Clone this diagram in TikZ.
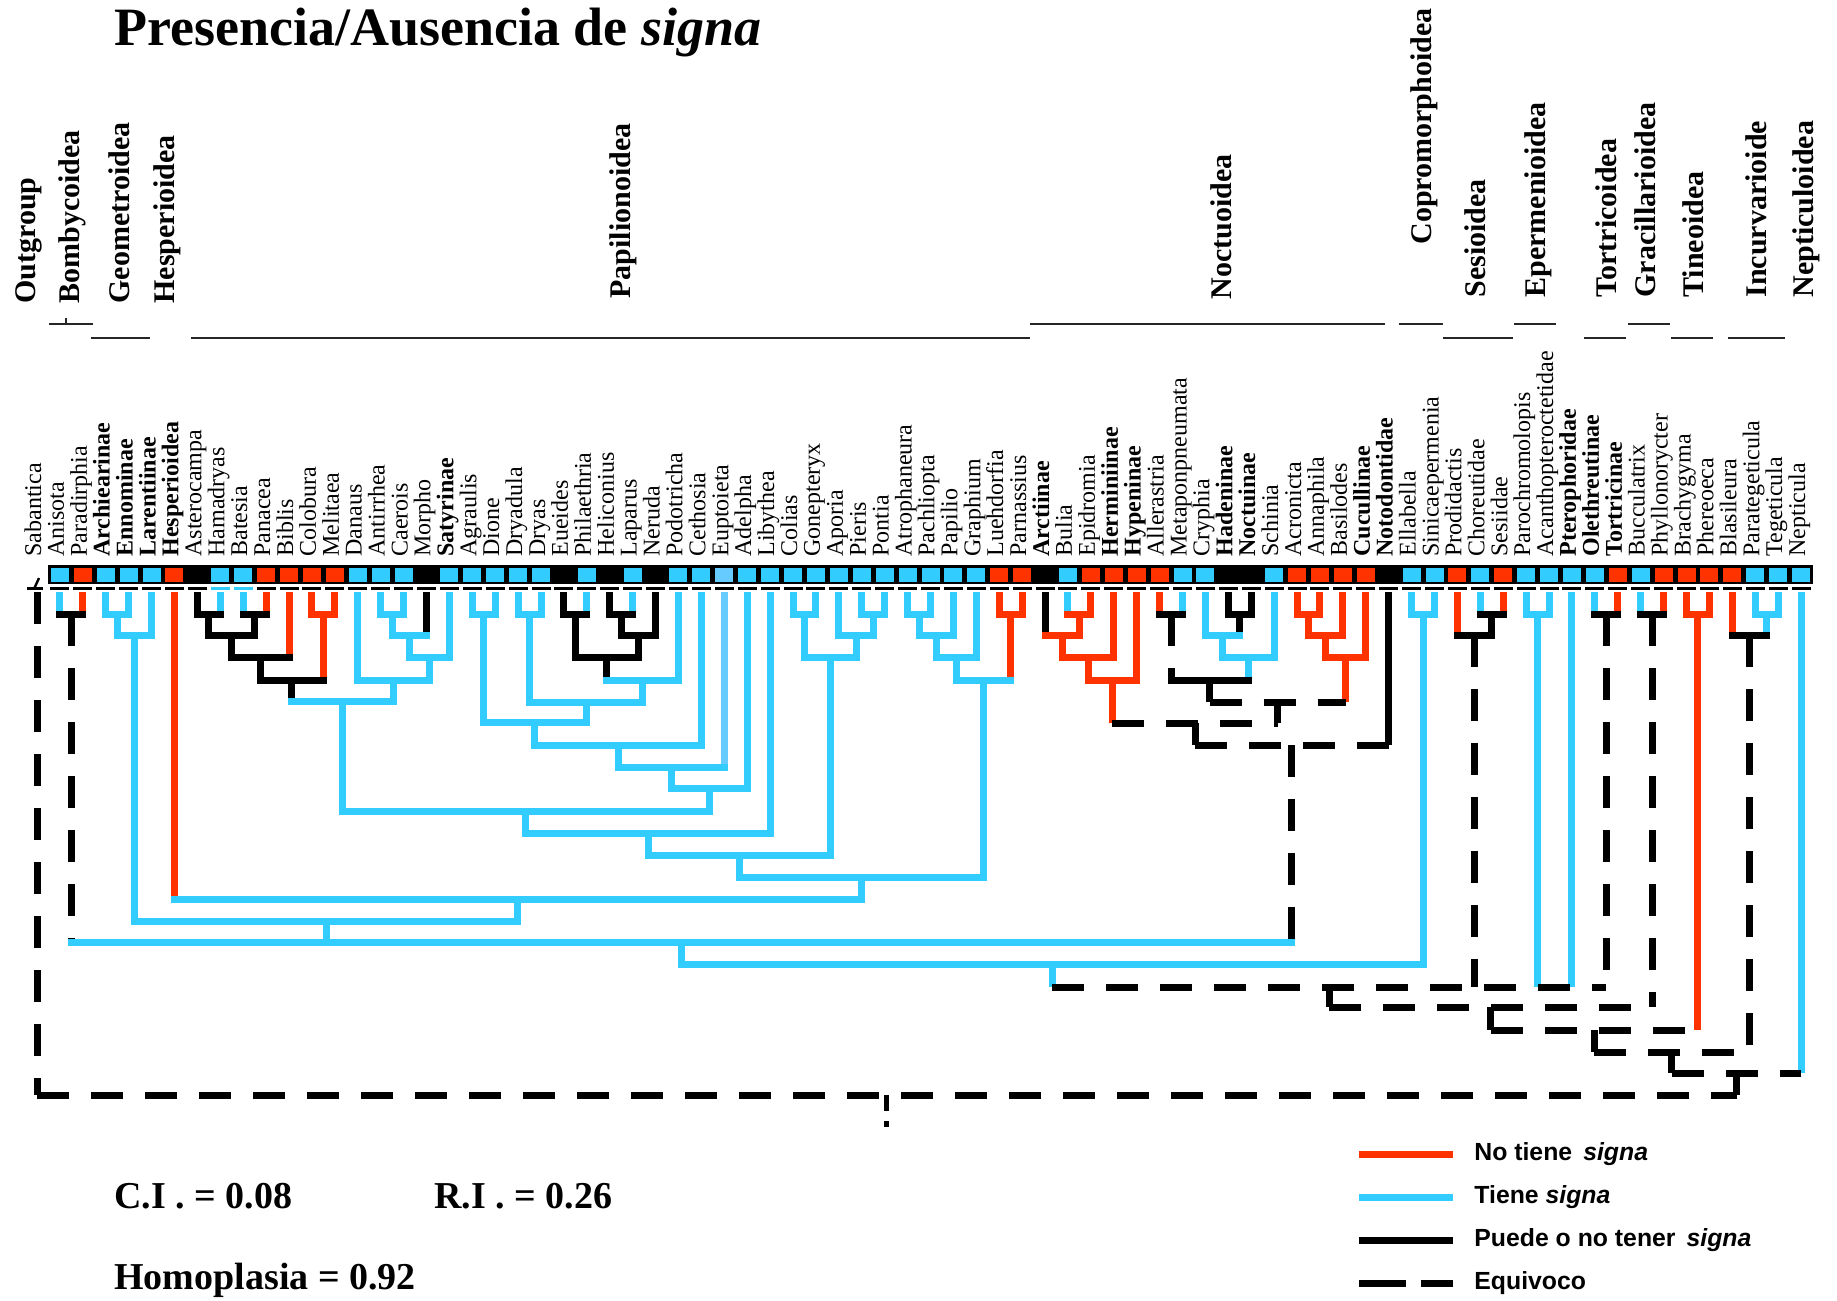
\documentclass[tikz,border=0pt]{standalone}
\usepackage{fontspec}
\setmainfont{Liberation Serif}
\newfontfamily\lsans{Liberation Sans}
\usetikzlibrary{calc}
\definecolor{sblue}{HTML}{33CCFF}
\definecolor{sred}{HTML}{FF3300}
\definecolor{slight}{HTML}{66CCFF}
% join two children (#2,#3) at height #4 into node #1
\newcommand\jn[7]{%
  \coordinate (#1) at ($(#2)!0.5!(#3)$);
  \coordinate (#1) at (#1 |- 0,#4);
  \draw[#6] (#2) -- (#2 |- #1);
  \draw[#7] (#3) -- (#3 |- #1);
  \draw[#5] (#2 |- #1) -- (#3 |- #1);
}
\begin{document}
\begin{tikzpicture}[x=0.5pt,y=-0.5pt,
  br/.style={line width=3.5pt,line cap=butt},
  bl/.style={br,draw=sblue},
  rd/.style={br,draw=sred},
  bk/.style={br,draw=black},
  lb/.style={br,draw=slight},
  dk/.style={br,draw=black,dash pattern=on 16pt off 11pt},
  hz/.style={line cap=rect},
  taxon/.style={rotate=90,anchor=base west,inner sep=0pt,font=\fontsize{12}{12}\selectfont},
  grp/.style={rotate=90,anchor=base west,inner sep=0pt,font=\fontsize{15}{15}\selectfont\bfseries},
  uline/.style={line width=1.2pt,draw=black!85},
  stat/.style={anchor=base west,inner sep=0pt,font=\fontsize{19}{19}\selectfont\bfseries},
  legtext/.style={anchor=west,inner sep=0pt,font=\lsans\bfseries\fontsize{12.4}{13}\selectfont},
  legdash/.style={br,draw=black,dash pattern=on 23.5pt off 7.5pt},
  ]
\useasboundingbox (0,0) rectangle (1837,1301);

% title
\node[anchor=base west,inner sep=0pt,font=\fontsize{27}{27}\selectfont\bfseries] (title) at (114,45) {Presencia/Ausencia de \textit{signa}};

% group labels
\node[grp] (g1) at (35,304) {Outgroup};
\node[grp] (g2) at (79,304) {Bombycoidea};
\node[grp] (g3) at (129,304) {Geometroidea};
\node[grp] (g4) at (174,304) {Hesperioidea};
\node[grp] (g5) at (630,299) {Papilionoidea};
\node[grp] (g6) at (1231,300) {Noctuoidea};
\node[grp] (g7) at (1431,245) {Copromorphoidea};
\node[grp] (g8) at (1485,298) {Sesioidea};
\node[grp] (g9) at (1545,298) {Epermenioidea};
\node[grp] (g10) at (1616,298) {Tortricoidea};
\node[grp] (g11) at (1655,298) {Gracillarioidea};
\node[grp] (g12) at (1703,298) {Tineoidea};
\node[grp] (g13) at (1766,298) {Incurvarioide};
\node[grp] (g14) at (1813,298) {Nepticuloidea};
% group underlines
\draw[uline] (49,324) -- (93,324);
\draw[uline] (66,318) -- (66,324);
\draw[uline] (91,338) -- (150,338);
\draw[uline] (191,338) -- (1030,338);
\draw[uline] (1030,324) -- (1385,324);
\draw[uline] (1399,324) -- (1443,324);
\draw[uline] (1443,338) -- (1513,338);
\draw[uline] (1514,324) -- (1556,324);
\draw[uline] (1584,338) -- (1626,338);
\draw[uline] (1628,324) -- (1670,324);
\draw[uline] (1671,338) -- (1713,338);
\draw[uline] (1728,338) -- (1785,338);

% taxon labels
\foreach \lab [count=\i from 0] in {Sabantica,Anisota,Paradirphia,\textbf{Archiearinae},\textbf{Ennominae},\textbf{Larentiinae},\textbf{Hesperioidea},Asterocampa,Hamadryas,Batesia,Panacea,Biblis,Colobura,Melitaea,Danaus,Antirrhea,Caerois,Morpho,\textbf{Satyrinae},Agraulis,Dione,Dryadula,Dryas,Eueides,Philaethria,Heliconius,Laparus,Neruda,Podotricha,Cethosia,Euptoieta,Adelpha,Libythea,Colias,Gonepteryx,Aporia,Pieris,Pontia,Atrophaneura,Pachliopta,Papilio,Graphium,Luehdorfia,Parnassius,\textbf{Arctiinae},Bulia,Epidromia,\textbf{Herminiinae},\textbf{Hypeninae},Allerastria,Metaponpneumata,Cryphia,\textbf{Hadeninae},\textbf{Noctuinae},Schinia,Acronicta,Annaphila,Basilodes,\textbf{Cucullinae},\textbf{Notodontidae},Ellabella,Sinicaepermenia,Prodidactis,Choreutidae,Sesiidae,Parochromolopis,Acanthopteroctetidae,\textbf{Pterophoridae},\textbf{Olethreutinae},\textbf{Tortricinae},Bucculatrix,Phyllonorycter,Brachygyma,Phereoeca,Blasileura,Parategeticula,Tegeticula,Nepticula}
  \node[taxon] (l\i) at ({41+22.91*\i},557) {\lab};

% character bar
\fill[black] (48,565) rectangle (1813,584);
\foreach \i/\c in {1/sblue,2/sred,3/sblue,4/sblue,5/sblue,6/sred,8/sblue,9/sblue,10/sred,11/sred,12/sred,13/sred,14/sblue,15/sblue,16/sblue,18/sblue,19/sblue,20/sblue,21/sblue,22/sblue,24/sblue,26/sblue,28/sblue,29/sblue,30/slight,31/sblue,32/sblue,33/sblue,34/sblue,35/sblue,36/sblue,37/sblue,38/sblue,39/sblue,40/sblue,41/sblue,42/sred,43/sred,45/sblue,46/sred,47/sred,48/sred,49/sred,50/sblue,51/sblue,54/sblue,55/sred,56/sred,57/sred,58/sred,60/sblue,61/sblue,62/sred,63/sblue,64/sred,65/sblue,66/sblue,67/sblue,68/sblue,69/sred,70/sblue,71/sred,72/sred,73/sred,74/sred,75/sblue,76/sblue,77/sblue}
  \fill[\c] ({37+22.91*\i-9},568) rectangle ({37+22.91*\i+9},582);
\foreach \i in {1,...,77}
  \draw[line width=1.5pt] ({37+22.91*\i-9.5},588) -- ({37+22.91*\i+9.5},588);
\foreach \i in {8,9}
  \draw[line width=1.5pt,sblue] ({37+22.91*\i-9.5},588) -- ({37+22.91*\i+9.5},588);
\draw[line width=1.5pt] (27,588) -- (43,588);
\draw[line width=1.2pt] (34,589) -- (39,578);

% tips
\foreach \i in {0,...,77} \coordinate (t\i) at ({37+22.91*\i},592);

% Bombycoidea
\jn{bom}{t1}{t2}{614}{bk,hz}{bl}{rd}
% Geometroidea
\jn{geoa}{t3}{t4}{614}{bl,hz}{bl}{bl}
\jn{geo}{geoa}{t5}{635}{bl,hz}{bl}{bl}
% Nymphalidae part 1
\jn{aa}{t7}{t8}{614}{bk,hz}{bk}{bl}
\jn{ab}{t9}{t10}{614}{bk,hz}{bl}{rd}
\jn{ac}{aa}{ab}{635}{bk,hz}{bk}{bk}
\jn{ad}{ac}{t11}{657}{bk,hz}{bk}{rd}
\jn{ae}{t12}{t13}{614}{rd,hz}{rd}{rd}
\jn{af}{ad}{ae}{680}{bk,hz}{bk}{rd}
\jn{sa}{t15}{t16}{614}{bl,hz}{bl}{bl}
\jn{sb}{sa}{t17}{635}{bl,hz}{bl}{bk}
\jn{sc}{sb}{t18}{657}{bl,hz}{bl}{bl}
\jn{sd}{t14}{sc}{680}{bl,hz}{bl}{bl}
\jn{ag}{af}{sd}{701}{bl,hz}{bk}{bl}
% Heliconiines etc.
\jn{ha}{t19}{t20}{614}{bl,hz}{bl}{bl}
\jn{hb}{t21}{t22}{614}{bl,hz}{bl}{bl}
\jn{hc}{t23}{t24}{614}{bk,hz}{bk}{bl}
\jn{hd}{t25}{t26}{614}{bk,hz}{bk}{bl}
\jn{he}{hd}{t27}{635}{bk,hz}{bk}{bk}
\jn{hf}{hc}{he}{657}{bk,hz}{bk}{bk}
\jn{hg}{hf}{t28}{680}{bl,hz}{bk}{bl}
\jn{hh}{hb}{hg}{702}{bl,hz}{bl}{bl}
\jn{hi}{ha}{hh}{722}{bl,hz}{bl}{bl}
\jn{hj}{hi}{t29}{745}{bl,hz}{bl}{bl}
\jn{hk}{hj}{t30}{767}{bl,hz}{bl}{lb}
\jn{hl}{hk}{t31}{788}{bl,hz}{bl}{bl}
\jn{hm}{ag}{hl}{811}{bl,hz}{bl}{bl}
\jn{hn}{hm}{t32}{833}{bl,hz}{bl}{bl}
% Pieridae
\jn{pa}{t33}{t34}{614}{bl,hz}{bl}{bl}
\jn{pb}{t36}{t37}{614}{bl,hz}{bl}{bl}
\jn{pc}{t35}{pb}{635}{bl,hz}{bl}{bl}
\jn{pd}{pa}{pc}{657}{bl,hz}{bl}{bl}
\jn{pe}{hn}{pd}{855}{bl,hz}{bl}{bl}
% Papilionidae
\jn{qa}{t38}{t39}{614}{bl,hz}{bl}{bl}
\jn{qb}{qa}{t40}{635}{bl,hz}{bl}{bl}
\jn{qc}{qb}{t41}{657}{bl,hz}{bl}{bl}
\jn{qd}{t42}{t43}{614}{rd,hz}{rd}{rd}
\jn{qe}{qc}{qd}{680}{bl,hz}{bl}{rd}
\jn{pf}{pe}{qe}{877}{bl,hz}{bl}{bl}
\jn{pg}{t6}{pf}{899}{bl,hz}{rd}{bl}
\jn{ph}{geo}{pg}{921}{bl,hz}{bl}{bl}
% Noctuoidea
\jn{na}{t45}{t46}{614}{rd,hz}{bl}{rd}
\jn{nb}{t44}{na}{635}{rd,hz}{bk}{rd}
\jn{nc}{nb}{t47}{657}{rd,hz}{rd}{rd}
\jn{nd}{nc}{t48}{680}{rd,hz}{rd}{rd}
\jn{ne}{t49}{t50}{614}{bk,hz}{rd}{bl}
\jn{nf}{t52}{t53}{614}{bk,hz}{bk}{bk}
\jn{ng}{t51}{nf}{635}{bl,hz}{bl}{bk}
\jn{nh}{ng}{t54}{657}{bl,hz}{bl}{bl}
\jn{ni}{ne}{nh}{680}{bk,hz}{dk}{bl}
\jn{ca}{t55}{t56}{614}{rd,hz}{rd}{rd}
\jn{cb}{ca}{t57}{635}{rd,hz}{rd}{rd}
\jn{cc}{cb}{t58}{657}{rd,hz}{rd}{rd}
\jn{nj}{ni}{cc}{702}{dk}{bk}{rd}
\jn{nk}{nd}{nj}{723}{dk}{rd}{bk}
\jn{nl}{nk}{t59}{745}{dk}{bk}{bk}
% Copromorphoidea
\jn{cp}{t60}{t61}{614}{bl,hz}{bl}{bl}
% Sesioidea
\jn{sea}{t63}{t64}{614}{bk,hz}{bl}{rd}
\jn{se}{t62}{sea}{635}{bk,hz}{rd}{bk}
% Epermenioidea
\jn{ep}{t65}{t66}{614}{bl,hz}{bl}{bl}
% Tortricoidea
\jn{tor}{t68}{t69}{614}{bk,hz}{bl}{rd}
% Gracillarioidea
\jn{gr}{t70}{t71}{614}{bk,hz}{bl}{rd}
% Tineoidea
\jn{tin}{t72}{t73}{614}{rd,hz}{rd}{rd}
% Incurvarioidea
\jn{inca}{t75}{t76}{614}{bl,hz}{bl}{bl}
\jn{inc}{t74}{inca}{635}{bk,hz}{rd}{bl}

% backbone
\coordinate (g942) at ($(bom)!0.5!(nl)$);
\coordinate (g942) at (g942 |- 0,942);
\draw[dk] (bom) -- (bom |- g942);
\draw[bl] (ph) -- (ph |- g942);
\draw[dk] (nl) -- (nl |- g942);
\draw[bl,hz] (bom |- g942) -- (nl |- g942);
\jn{g964}{g942}{cp}{964}{bl,hz}{bl}{bl}
\coordinate (g987) at ($(g964)!0.5!(tor)$);
\coordinate (g987) at (g987 |- 0,987);
\draw[bl] (g964) -- (g964 |- g987);
\draw[dk] (se) -- (se |- g987);
\draw[bl] (ep) -- (ep |- g987);
\draw[bl] (t67) -- (t67 |- g987);
\draw[dk] (tor) -- (tor |- g987);
\draw[dk] (g964 |- g987) -- (tor |- g987);
\jn{g1007}{g987}{gr}{1007}{dk}{dk}{dk}
\jn{g1030}{g1007}{tin}{1030}{dk}{dk}{rd}
\jn{g1052}{g1030}{inc}{1052}{dk}{dk}{dk}
\jn{g1073}{g1052}{t77}{1073}{dk}{dk}{bl}
\jn{root}{t0}{g1073}{1095}{dk}{dk}{dk}
\coordinate (rootend) at (root |- 0,1128);
\draw[black,line width=2.5pt,dash pattern=on 8pt off 5pt on 3pt off 20pt] (root) -- (rootend);

% statistics
\node[stat] (ci) at (114,1208) {C.I . = 0.08};
\node[stat] (ri) at (434,1208) {R.I . = 0.26};
\node[stat] (hom) at (114,1289) {Homoplasia = 0.92};

% legend
\coordinate (la1) at (1359,1154); \coordinate (la2) at (1453,1154);
\coordinate (lb1) at (1359,1197); \coordinate (lb2) at (1453,1197);
\coordinate (lc1) at (1359,1240); \coordinate (lc2) at (1453,1240);
\coordinate (ld1) at (1359,1283); \coordinate (ld2) at (1453,1283);
\draw[rd] (la1) -- (la2);
\draw[bl] (lb1) -- (lb2);
\draw[bk] (lc1) -- (lc2);
\draw[legdash] (ld1) -- (ld2);
\node[legtext] (lt1) at (1474,1154) {No tiene\, \textit{signa}};
\node[legtext] (lt2) at (1474,1197) {Tiene \textit{signa}};
\node[legtext] (lt3) at (1474,1240) {Puede o no tener\, \textit{signa}};
\node[legtext] (lt4) at (1474,1283) {Equivoco};
\end{tikzpicture}
\end{document}
